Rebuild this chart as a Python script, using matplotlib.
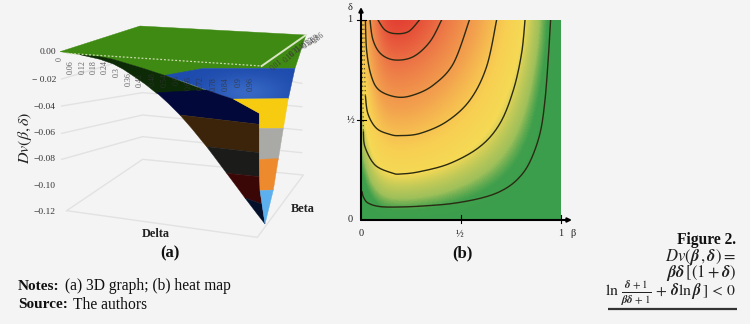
import numpy as np
import matplotlib
matplotlib.use("Agg")
import matplotlib.pyplot as plt
from matplotlib.colors import LinearSegmentedColormap, Normalize
from matplotlib.patches import Polygon

plt.rcParams['font.family'] = ['Liberation Serif', 'DejaVu Serif']
plt.rcParams['mathtext.fontset'] = 'stix'
BG = '#f4f4f4'

# ---------- panel (b): Dv values, rows delta = 0..1, columns beta = 0..1 ----------
beta_grid = [0, .1, .2, .3, .4, .5, .6, .7, .8, .9, 1]
delta_grid = [0, .2, .4, .6, .8, 1]
dv_00 = [0] * 11
dv_02 = [0, -.0053, -.0060, -.0055, -.0046, -.0034, -.0023, -.0014, -.0006, -.0002, 0]
dv_04 = [0, -.0202, -.0224, -.0203, -.0165, -.0123, -.0083, -.0048, -.0022, -.0006, 0]
dv_06 = [0, -.0434, -.0474, -.0423, -.0341, -.0251, -.0167, -.0097, -.0044, -.0011, 0]
dv_08 = [0, -.0738, -.0795, -.0702, -.0559, -.0408, -.0270, -.0156, -.0070, -.0018, 0]
dv_10 = [0, -.1107, -.1175, -.1027, -.0812, -.0589, -.0387, -.0222, -.0099, -.0025, 0]

# contour lines: (beta, delta)
contour_1 = [(.006, .14), (.012, .115), (.035, .085), (.095, .067), (.195, .065), (.31, .07), (.46, .083),
             (.61, .112), (.71, .15), (.787, .208), (.845, .292), (.895, .433), (.92, .6), (.937, .817), (.948, 1)]
contour_2 = [(.012, .44), (.02, .365), (.07, .275), (.155, .235), (.2, .23), (.295, .242),
             (.445, .283), (.595, .367), (.695, .483), (.762, .65), (.803, .833), (.82, 1)]
contour_3 = [(.022, .62), (.035, .53), (.078, .458), (.145, .428), (.195, .422), (.295, .433),
             (.428, .492), (.545, .6), (.628, .767), (.678, 1)]
contour_4 = [(.022, 1), (.028, .85), (.05, .725), (.09, .65), (.178, .615), (.262, .625), (.362, .675),
             (.462, .783), (.542, 1)]
contour_5 = [(.045, 1), (.06, .9), (.10, .83), (.17, .8), (.262, .817), (.345, .892), (.403, 1)]
contour_6 = [(.085, 1), (.12, .95), (.17, .932), (.237, .942), (.292, 1)]
contours = [contour_1, contour_2, contour_3, contour_4, contour_5, contour_6]
# upper left ends of the two lowest-level lines, dotted against the axis
dotted_2 = [(.006, 1), (.008, .7), (.012, .44)]
dotted_3 = [(.014, 1), (.016, .8), (.022, .62)]

# colour scale of the heat map
heat_levels = [0, -.0018, -.0035, -.009, -.018, -.04, -.075, -.12]
heat_colors = ['#3a9e4c', '#3f9f4c', '#a0c05a', '#f5d955', '#f8cf52', '#f3a24e', '#ec7346', '#e02f2c']

# ---------- panel (a): sketch of the 3D view, in picture units ----------
s_green = [(180, 155), (420, 78), (918, 105), (885, 205), (610, 205), (500, 228), (430, 205), (340, 178), (250, 165)]
s_blue = [(495, 226), (610, 205), (885, 205), (865, 296), (700, 297), (660, 284), (620, 270), (560, 248)]
s_dark_green = [(235, 163), (300, 170), (340, 178), (430, 205), (500, 228), (560, 250), (620, 272), (470, 280),
                (435, 252), (400, 228), (370, 208), (340, 192), (300, 178)]
s_navy = [(470, 278), (620, 270), (660, 284), (700, 297), (778, 340), (778, 373), (540, 345), (505, 310)]
s_brown = [(540, 345), (778, 373), (778, 458), (620, 440), (610, 428), (575, 385)]
s_black = [(620, 440), (778, 458), (778, 530), (680, 520), (645, 473)]
s_red = [(680, 520), (778, 530), (780, 572), (786, 612), (735, 594), (710, 560)]
s_tail = [(735, 594), (786, 612), (795, 672), (770, 640)]
s_yellow = [(700, 297), (865, 295), (850, 385), (778, 385), (778, 340)]
s_grey = [(778, 385), (850, 385), (835, 478), (778, 478)]
s_orange = [(778, 478), (835, 476), (820, 570), (780, 572)]
s_sky = [(780, 572), (820, 570), (795, 672)]
surface_bands = [(s_green, '#3f8a12'), (s_blue, '#1e4cae'), (s_dark_green, '#0c2a06'), (s_navy, '#03083a'),
                 (s_brown, '#3b2409'), (s_black, '#1b1b19'), (s_red, '#3a0606'), (s_tail, '#04102a'),
                 (s_yellow, '#f7cb10'), (s_grey, '#a9a9a6'), (s_orange, '#ee8a2e'), (s_sky, '#5cb0ee')]

floor_outline = [(200, 632), (428, 478), (910, 525), (772, 712), (200, 632)]
wall_lines = [[(185, 237), (425, 165), (905, 250)], [(185, 318), (428, 278), (905, 320)],
              [(185, 400), (428, 345), (905, 390)], [(185, 478), (428, 410), (905, 458)]]
front_dash = [(200, 160), (785, 198)]
side_line = [(785, 198), (918, 105)]

dv_labels = ['0.00', '\u2212 0.02', '\u22120.04', '\u22120.06', '\u22120.08', '\u22120.10', '\u22120.12']
dv_label_y = [157, 240, 320, 400, 478, 558, 635]
delta_labels = ['0', '0.06', '0.12', '0.18', '0.24', '0.3', '0.36', '0.42', '0.48', '0.54', '0.6', '0.66',
                '0.72', '0.78', '0.84', '0.9', '0.96']
delta_label_x = [180, 212, 247, 281, 314, 349, 385, 420, 457, 493, 530, 567, 603, 640, 678, 716, 752]
delta_label_y = [170, 180, 180, 180, 180, 200, 215, 218, 218, 220, 224, 228, 228, 232, 232, 232, 232]
beta_labels = ['0.01', '0.16', '0.31', '0.46', '0.52', '0.69', '0.86']
beta_label_xy = [(830, 195), (868, 172), (888, 155), (905, 142), (925, 130), (940, 122), (955, 114)]


def smooth(pts, n=12):
    p = np.array([pts[0]] + list(pts) + [pts[-1]], float)
    out = []
    for i in range(1, len(p) - 2):
        t = np.linspace(0, 1, n, endpoint=False)[:, None]
        out.append(.5 * (2 * p[i] + (p[i + 1] - p[i - 1]) * t + (2 * p[i - 1] - 5 * p[i] + 4 * p[i + 1] - p[i + 2]) * t ** 2
                         + (3 * p[i] - p[i - 1] - 3 * p[i + 1] + p[i + 2]) * t ** 3))
    out.append(p[-1:])
    return np.vstack(out)


fig = plt.figure(figsize=(7.5, 3.24), dpi=100, facecolor=BG)
ax = fig.add_axes([0, 0, 1, 1])
ZOOM = 3.0


def z(pts):
    return [(x / ZOOM, y / ZOOM) for x, y in pts]


for poly in [floor_outline] + wall_lines:
    xy = z(poly)
    ax.plot([p[0] for p in xy], [p[1] for p in xy], color='#e2e2e2', lw=1.0, zorder=1)
for pts, col in surface_bands:
    patch = Polygon(z(pts), closed=True, fc=col, ec=col, lw=0.3, zorder=2)
    ax.add_patch(patch)
    if pts is s_blue:
        # soft highlight in the middle of the blue band
        yy, xx = np.mgrid[0:1:80j, 0:1:160j]
        glow = np.exp(-(((xx - .62) / .28) ** 2 + ((yy - .75) / .5) ** 2))
        rgba = np.zeros((80, 160, 4))
        rgba[..., :3] = (.30, .50, .85)
        rgba[..., 3] = .55 * glow
        im = ax.imshow(rgba, extent=(165, 296, 100, 68), aspect='auto', zorder=2.1)
        im.set_clip_path(patch)
xy = z(front_dash)
ax.plot([p[0] for p in xy], [p[1] for p in xy], color='#c9dcae', lw=0.9, ls=(0, (1.5, 1.5)), zorder=3)
xy = z(side_line)
ax.plot([p[0] for p in xy], [p[1] for p in xy], color='#d9e6c4', lw=1.4, zorder=3)
ax.set_xlim(0, 750)
ax.set_ylim(324, 0)
ax.axis('off')

for lab, y in zip(dv_labels, dv_label_y):
    ax.text(165 / ZOOM + 1, y / ZOOM, lab, ha='right', va='center', fontsize=6.8, color='#333333', zorder=4)
for lab, x, y in zip(delta_labels, delta_label_x, delta_label_y):
    ax.text(x / ZOOM, y / ZOOM, lab, ha='center', va='top', rotation=90, fontsize=5.8, color='#333333', alpha=.75, zorder=4)
for lab, (x, y) in zip(beta_labels, beta_label_xy):
    ax.text(x / ZOOM, y / ZOOM, lab, ha='center', va='center', rotation=40, fontsize=5.5, color='#3a3a3a', alpha=.85, zorder=4)

ax.text(25, 138, r'$Dv(\beta,\delta)$', rotation=90, ha='center', va='center', fontsize=11.5, color='#222222')
ax.text(156, 234, 'Delta', ha='center', va='center', fontsize=8.8, fontweight='bold', color='#222222')
ax.text(303, 209, 'Beta', ha='center', va='center', fontsize=8.8, fontweight='bold', color='#222222')
ax.text(170, 253, '(a)', ha='center', va='center', fontsize=12, fontweight='bold', color='#111111')
ax.text(462, 253, '(b)', ha='center', va='center', fontsize=12, fontweight='bold', color='#111111')

ax.text(18, 286, 'Notes:', ha='left', va='center', fontsize=11, fontweight='bold', color='#111111')
ax.text(65, 286, '(a) 3D graph; (b) heat map', ha='left', va='center', fontsize=11.2, color='#111111')
ax.text(18, 305, 'Source:', ha='left', va='center', fontsize=11, fontweight='bold', color='#111111')
ax.text(73, 305, 'The authors', ha='left', va='center', fontsize=11.2, color='#111111')

ax.text(736, 240, 'Figure 2.', ha='right', va='center', fontsize=11.2, fontweight='bold', color='#111111')
ax.text(736, 257, r'$Dv(\boldsymbol{\beta}\,,\boldsymbol{\delta})=$', ha='right', va='center', fontsize=12, color='#222222')
ax.text(736, 273, r'$\boldsymbol{\beta\delta}\,[(1+\boldsymbol{\delta})$', ha='right', va='center', fontsize=12, color='#222222')
ax.text(736, 293, r'$\ln\,\frac{\boldsymbol{\delta}\,+1}{\boldsymbol{\beta\delta}\,+1}\,+\,\boldsymbol{\delta}\ln\boldsymbol{\beta}\,]\,<\,0$',
        ha='right', va='center', fontsize=11.3, color='#222222')
ax.plot([608, 737], [309, 309], color='#333333', lw=1.6, solid_capstyle='butt')

# heat map
L, R, T, B = 361, 561, 20, 220
hax = fig.add_axes([L / 750, 1 - B / 324, (R - L) / 750, (B - T) / 324])
dv = np.array([dv_00, dv_02, dv_04, dv_06, dv_08, dv_10])
lo = min(heat_levels)
pos = [(v - lo) / (0 - lo) for v in heat_levels]
order = np.argsort(pos)
cmap = LinearSegmentedColormap.from_list('heat', [(pos[i], heat_colors[i]) for i in order], N=1024)
dx = beta_grid[1] - beta_grid[0]
dy = delta_grid[1] - delta_grid[0]
hax.imshow(dv, origin='lower', extent=(-dx / 2, 1 + dx / 2, -dy / 2, 1 + dy / 2), aspect='auto', cmap=cmap,
           norm=Normalize(lo, 0, clip=True), interpolation='bicubic', interpolation_stage='data')
for c in contours:
    line = smooth(c)
    hax.plot(line[:, 0], line[:, 1], color='#2b2a12', lw=1.0)
for d in (dotted_2, dotted_3):
    hax.plot([p[0] for p in d], [p[1] for p in d], color='#5b4d20', lw=0.9, ls=(0, (1, 2.5)))
hax.set_xlim(0, 1)
hax.set_ylim(0, 1)
hax.axis('off')

# axes arrows, ticks and their labels of the heat map, on top
top = fig.add_axes([0, 0, 1, 1])
top.set_xlim(0, 750)
top.set_ylim(324, 0)
top.axis('off')
top.patch.set_alpha(0)
AK = dict(arrowstyle='-|>', color='black', lw=1.5, mutation_scale=6, shrinkA=0, shrinkB=0)
top.annotate('', xy=(572, B), xytext=(L, B), arrowprops=AK)
top.annotate('', xy=(L, 7), xytext=(L, B), arrowprops=AK)
for x in (461, 561):
    top.plot([x, x], [215, 223], color='black', lw=0.8)
for y in (20, 120):
    top.plot([357, 366], [y, y], color='black', lw=0.8)
for txt, x, y in [('\u03b4', 350, 8), ('1', 350, 20), ('\u00bd', 351, 120), ('0', 350, 220),
                  ('0', 361, 234), ('\u00bd', 460, 234), ('1', 561, 234), ('\u03b2', 573, 234)]:
    top.text(x, y, txt, ha='center', va='center', fontsize=7.5, color='#222222')

fig.savefig('out.png', dpi=100, facecolor=BG)
